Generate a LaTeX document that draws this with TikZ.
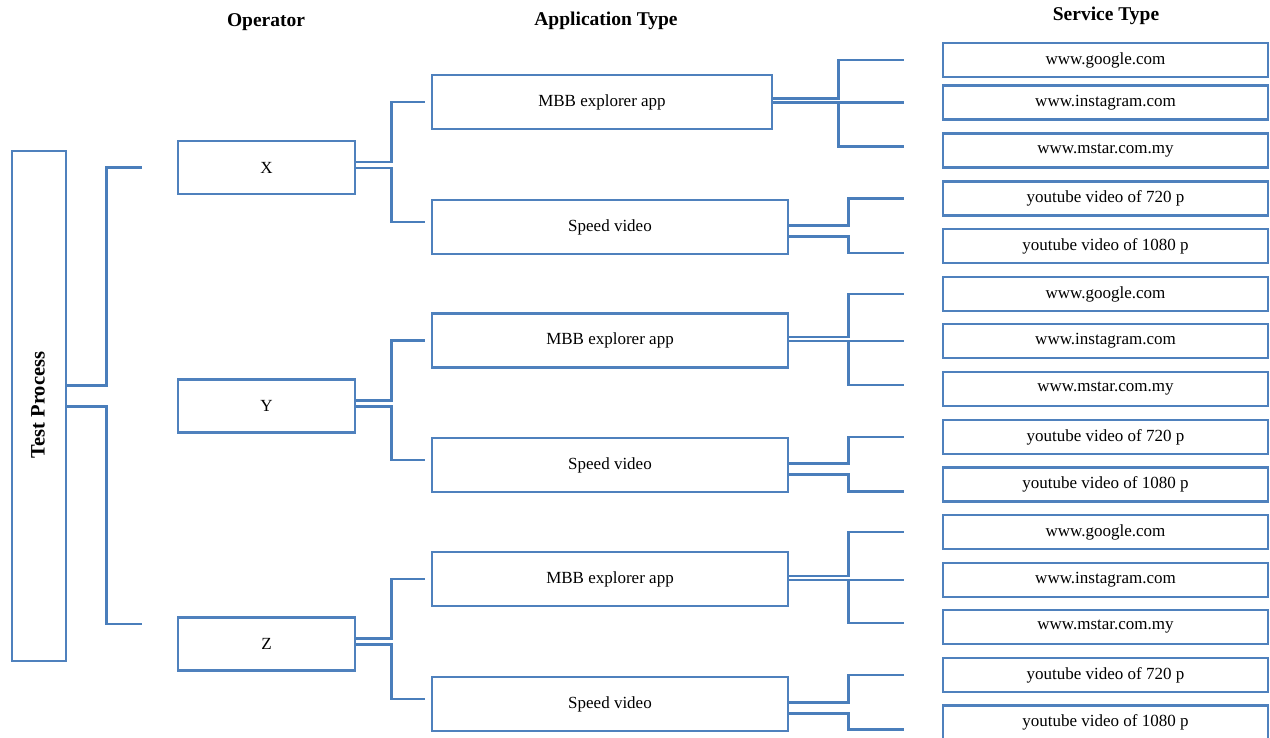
\documentclass[tikz,border=0pt]{standalone}
\usepackage{fontspec}
\setmainfont{Liberation Serif}
\definecolor{boxc}{HTML}{4F81BD}
\definecolor{linec}{HTML}{4A7EBB}
\tikzset{
  box/.style={draw=boxc, line width=2.6pt, rectangle, inner sep=0pt, fill=white,
    font=\fontsize{17}{20}\selectfont},
  opbox/.style={box, minimum width=177pt, minimum height=53pt},
  appbox/.style={box, minimum width=356pt, minimum height=54pt},
  svbox/.style={box, minimum width=325pt, minimum height=34pt},
  head/.style={font=\fontsize{19.5}{22}\selectfont\bfseries, inner sep=0pt},
  conn/.style={draw=linec, line width=2.6pt}
}
\newcommand\threeconn[5]{%
  \draw[conn] ([yshift=4pt]#3.west -| #1.east) -- ++(#5,0) |- ([xshift=-38pt]#2.west);
  \draw[conn] (#3.west -| #1.east) -- ([xshift=-38pt]#3.west);
  \draw[conn] (#3.west -| #1.east) ++(#5,0) |- ([xshift=-38pt,yshift=4pt]#4.west);
}
\newcommand\twoconn[3]{%
  \draw[conn] ([yshift=1.5pt]#1.east) -- ++(59,0) |- ([xshift=-38pt]#2.west);
  \draw[conn] ([yshift=-9.5pt]#1.east) -- ++(59,0) |- ([xshift=-38pt,yshift=-7pt]#3.west);
}
\newcommand\opconn[3]{%
  \draw[conn] ([yshift=5.5pt]#1.east) -- ++(35,0) |- ([xshift=-6pt]#2.west);
  \draw[conn] ([yshift=-0.5pt]#1.east) -- ++(35,0) |- ([xshift=-6pt,yshift=5pt]#3.west);
}
\begin{document}
\begin{tikzpicture}[x=1pt,y=-1pt]
\useasboundingbox (0,0) rectangle (1270,737);

% headers
\node[head] (hop) at (266,22) {Operator};
\node[head] (hap) at (606,21) {Application Type};
\node[head] (hsv) at (1106,16) {Service Type};

% test process
\node[box, minimum width=54pt, minimum height=510pt] (tp) at (39,406) {};
\node[head, rotate=90, font=\fontsize{20.5}{23}\selectfont\bfseries] (tpl) at (38,405) {Test Process};

% operators
\node[opbox] (X) at (266.5,167.5) {X};
\node[opbox] (Y) at (266.5,406) {Y};
\node[opbox] (Z) at (266.5,644) {Z};

% applications
\node[box, minimum width=340pt, minimum height=54pt] (ax) at (602,102) {MBB explorer app};
\node[appbox] (sx) at (610,227) {Speed video};
\node[appbox] (ay) at (610,340.5) {MBB explorer app};
\node[appbox] (sy) at (610,465) {Speed video};
\node[appbox] (az) at (610,579) {MBB explorer app};
\node[appbox] (sz) at (610,704) {Speed video};

% services
\node[svbox] (g1) at (1105.5,60) {www.google.com};
\node[svbox] (i1) at (1105.5,102.5) {www.instagram.com};
\node[svbox] (m1) at (1105.5,150.5) {www.mstar.com.my};
\node[svbox] (a1) at (1105.5,198.5) {youtube video of 720 p};
\node[svbox] (b1) at (1105.5,246) {youtube video of 1080 p};
\node[svbox] (g2) at (1105.5,294) {www.google.com};
\node[svbox] (i2) at (1105.5,341) {www.instagram.com};
\node[svbox] (m2) at (1105.5,389) {www.mstar.com.my};
\node[svbox] (a2) at (1105.5,437) {youtube video of 720 p};
\node[svbox] (b2) at (1105.5,484.5) {youtube video of 1080 p};
\node[svbox] (g3) at (1105.5,532) {www.google.com};
\node[svbox] (i3) at (1105.5,580) {www.instagram.com};
\node[svbox] (m3) at (1105.5,627) {www.mstar.com.my};
\node[svbox] (a3) at (1105.5,675) {youtube video of 720 p};
\node[svbox] (b3) at (1105.5,722.5) {youtube video of 1080 p};

% test process connectors (free ends)
\coordinate (tx) at ([xshift=-35pt]X.west);
\coordinate (tz) at ([xshift=-35pt,yshift=20pt]Z.west);
\draw[conn] ([yshift=20.5pt]tp.east) -- ++(39,0) |- (tx);
\draw[conn] ([yshift=-0.5pt]tp.east) -- ++(39,0) |- (tz);

% operator connectors
\opconn{X}{ax}{sx}
\opconn{Y}{ay}{sy}
\opconn{Z}{az}{sz}

% application connectors
\threeconn{ax}{g1}{i1}{m1}{65}
\threeconn{ay}{g2}{i2}{m2}{59}
\threeconn{az}{g3}{i3}{m3}{59}
\twoconn{sx}{a1}{b1}
\twoconn{sy}{a2}{b2}
\twoconn{sz}{a3}{b3}
\end{tikzpicture}
\end{document}
